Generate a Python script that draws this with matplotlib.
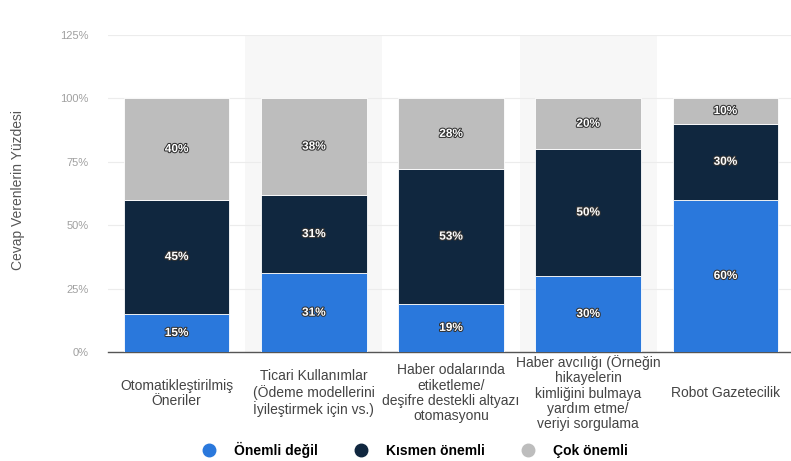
import matplotlib
matplotlib.use("Agg")
import matplotlib.pyplot as plt
import matplotlib.patheffects as pe
from matplotlib.lines import Line2D

plt.rcParams["font.family"] = ["Liberation Sans", "DejaVu Sans"]

categories = [
    "Otomatikleştirilmiş\nÖneriler",
    "Ticari Kullanımlar\n(Ödeme modellerini\nİyileştirmek için vs.)",
    "Haber odalarında\netiketleme/\ndeşifre destekli altyazı\notomasyonu",
    "Haber avcılığı (Örneğin\nhikayelerin\nkimliğini bulmaya\nyardım etme/\nveriyi sorgulama",
    "Robot Gazetecilik",
]
onemli_degil = [15, 31, 19, 30, 60]
kismen_onemli = [45, 31, 53, 50, 30]
cok_onemli = [40, 38, 28, 20, 10]
series_names = ["Önemli değil", "Kısmen önemli", "Çok önemli"]
colors = ["#2a78dc", "#10273f", "#bdbdbd"]

fig = plt.figure(figsize=(7.91, 4.61), dpi=100)
ax = fig.add_axes([108 / 791, 1 - 352 / 461, 686 / 791, 317 / 461])

x = list(range(len(categories)))
for i in x:
    if i % 2 == 1:
        ax.axvspan(i - 0.5, i + 0.5, color="#f7f7f7", zorder=0, lw=0)

bottom = [0] * len(x)
for vals, col in zip([onemli_degil, kismen_onemli, cok_onemli], colors):
    ax.bar(x, vals, bottom=bottom, width=0.77, color=col, edgecolor="white",
           linewidth=0.6, zorder=3)
    for xi, v, b in zip(x, vals, bottom):
        ax.text(xi, b + v / 2, f"{v}%", ha="center", va="center", color="white",
                fontsize=8.5, weight="bold", zorder=4,
                path_effects=[pe.withStroke(linewidth=1.5, foreground="#333333")])
    bottom = [b + v for b, v in zip(bottom, vals)]

ax.set_xlim(-0.5, len(x) - 0.5)
ax.set_ylim(0, 125)
ax.set_yticks([0, 25, 50, 75, 100, 125])
ax.set_yticklabels([f"{t}%" for t in [0, 25, 50, 75, 100, 125]], color="#a0a0a0", fontsize=8)
ax.tick_params(axis="y", length=0, pad=14)
ax.grid(axis="y", color="#ececec", lw=0.8, zorder=1)
ax.set_axisbelow(True)
for s in ["top", "right", "left"]:
    ax.spines[s].set_visible(False)
ax.spines["bottom"].set_color("#555555")
ax.spines["bottom"].set_linewidth(1.0)
ax.set_xticks([])

for xi, lab in zip(x, categories):
    ax.text(xi, -0.13, lab, transform=ax.get_xaxis_transform(), ha="center",
            va="center", fontsize=10, color="#444444", linespacing=1.12)

fig.text(18 / 791, 1 - 190 / 461, "Cevap Verenlerin Yüzdesi", rotation=90,
         ha="center", va="center", fontsize=10, color="#555555")

handles = [Line2D([0], [0], marker="o", lw=0, markersize=9, markerfacecolor=c,
                  markeredgecolor=c) for c in colors]
leg = fig.legend(handles, series_names, loc="center", bbox_to_anchor=(0.525, 0.025),
                 ncol=3, frameon=False, columnspacing=2.6, handletextpad=1.3,
                 handlelength=1.0, prop={"weight": "bold", "size": 10})

fig.savefig("out.png", dpi=100, facecolor="white")
